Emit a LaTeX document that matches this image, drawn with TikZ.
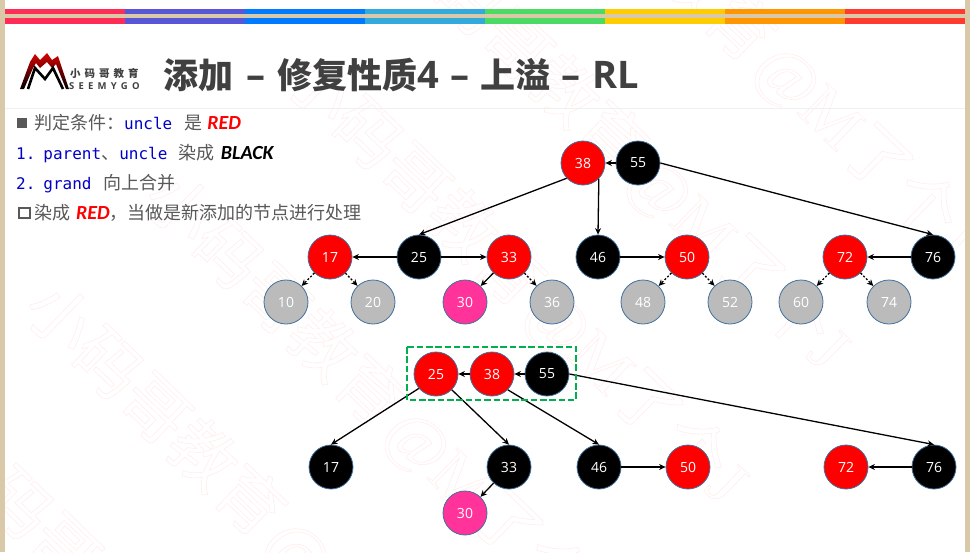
\documentclass[tikz,border=0pt]{standalone}
\usepackage{fontspec}
\setmainfont{Noto Sans CJK SC}
\newfontfamily\numfont{Open Sans}
\newfontfamily\monofont{DejaVu Sans Mono}
\newfontfamily\latinfont{Open Sans}
\newfontfamily\kwfont{Carlito}
\newfontfamily\wmfont{Noto Sans CJK SC}
\newfontfamily\wmlatin{Liberation Serif}
\usetikzlibrary{arrows.meta}
\definecolor{tanframe}{HTML}{D9C9A8}
\definecolor{bordb}{HTML}{41719C}
\definecolor{txtg}{HTML}{595959}
\definecolor{ttlg}{HTML}{404040}
\definecolor{mono}{HTML}{0000C8}
\definecolor{wm}{HTML}{FFEDEB}
\definecolor{nodegray}{HTML}{BBBBBB}
\definecolor{nodepink}{HTML}{FF3399}
\definecolor{boxgreen}{HTML}{00B050}
\tikzset{
 x=1pt,y=-1pt,
 tn/.style={circle,draw=bordb,line width=0.8pt,minimum size=44pt,inner sep=0pt,text=white,font=\numfont\fontsize{14}{14}\selectfont},
 rednode/.style={tn,fill=red},
 blacknode/.style={tn,fill=black},
 graynode/.style={tn,fill=nodegray,text=white},
 pinknode/.style={tn,fill=nodepink},
 link/.style={draw=black,line width=1.3pt,-{Stealth[length=6.5pt,width=6pt]}},
 dotlink/.style={link,dash pattern=on 2pt off 1.8pt},
 line/.style={anchor=base west,text=txtg,font=\fontsize{18}{20}\selectfont,inner sep=0pt},
 wmtext/.style={rotate=-44,text=wm,anchor=west,inner sep=0pt,font=\wmfont\fontsize{66}{66}\selectfont},
}
\newcommand{\mon}[1]{{\monofont\fontsize{16}{16}\selectfont\textcolor{mono}{#1}}}
\newcommand{\kw}[2]{{\kwfont\fontsize{20}{16}\selectfont\bfseries\itshape\textcolor{#1}{#2}}}
\newcommand{\ttlat}[1]{{\latinfont\fontsize{38}{38}\selectfont #1}}
\newcommand{\wmline}{\special{pdf:code 1 Tr 0.55 w}小码哥教育\hspace{6pt}{\wmlatin @M}了个{\wmlatin J}}
\begin{document}
\begin{tikzpicture}
\useasboundingbox (0,0) rectangle (970,552);
\fill[white] (0,0) rectangle (970,552);
% watermark
\begin{scope}
\clip (5,0) rectangle (965,552);
\node[wmtext] (w1) at (35,296) {\wmline};
\node[wmtext] (w2) at (155,186) {\wmline};
\node[wmtext] (w3) at (397,-68) {\wmline};
\node[wmtext] (w4) at (525,-179) {\wmline};
\node[wmtext] (w5) at (295,66) {\wmline};
\node[wmtext] (w6) at (-55,436) {\wmline};
\end{scope}
% frame
\fill[tanframe] (0,0) rectangle (5,552);
\fill[tanframe] (965,0) rectangle (970,552);
\fill[tanframe] (5,14) rectangle (965,18);
\foreach \c [count=\i from 0] in {FF2D55,5856D6,007AFF,34AADC,4CD964,FFCC00,FF9500,FF3B30}{
 \definecolor{seg}{HTML}{\c}
 \fill[seg] (5+120*\i,9) rectangle (125+120*\i,14);
 \fill[seg] (5+120*\i,18) rectangle (125+120*\i,24);
}
\draw[black!6,line width=0.7pt] (5,108) -- (965,108);
% logo
\shade[top color=red!85!black,bottom color=black] (20,89) -- (30,62) -- (35,54) -- (40,60) -- (47,53) -- (52,60) -- (58,56) -- (69,89) -- (66,89) -- (56,64) -- (52,68) -- (47,62) -- (40,68) -- (36,63) -- (33,68) -- (24,89) -- cycle;
\draw[line width=2.6pt,black,line join=miter] (28,89) -- (35,68) -- (45,79) -- (53,68) -- (63,89);
\node[anchor=base west,inner sep=0pt,font=\bfseries\fontsize{10.5}{12}\selectfont,text=ttlg] (logo1) at (70,77) {小\hspace{4pt}码\hspace{4pt}哥\hspace{4pt}教\hspace{4pt}育};
\node[anchor=base west,inner sep=0pt,font=\latinfont\bfseries\fontsize{9.5}{12}\selectfont,text=ttlg] (logo2) at (69,89) {S\hspace{4.2pt}E\hspace{4.2pt}E\hspace{4.2pt}M\hspace{4.2pt}Y\hspace{4.2pt}G\hspace{4.2pt}O};
% title
\node[anchor=base west,inner sep=0pt,text=ttlg,font=\bfseries\fontsize{35}{36}\selectfont] (title) at (163,88) {添加\hspace{13pt}\ttlat{–}\hspace{12pt}修复性质\ttlat{4}\hspace{12pt}\ttlat{–}\hspace{11pt}上溢\hspace{11pt}\ttlat{–}\hspace{12pt}\ttlat{RL}};
% text
\fill[txtg] (17,118) rectangle (27,128);
\node[line] (t1) at (34,129.5) {判定条件：\mon{uncle}\hspace{12pt}是\hspace{5pt}\kw{red}{RED}};
\node[line] (t2) at (16,159.5) {\mon{1.}\hspace{8pt}\mon{parent}、\mon{uncle}\hspace{11.5pt}染成\hspace{6pt}\kw{black}{BLACK}};
\node[line] (t3) at (16,189.5) {\mon{2.}\hspace{8pt}\mon{grand}\hspace{12pt}向上合并};
\draw[txtg,line width=2pt] (18.5,208) rectangle (29.5,218);
\node[line] (t4) at (34,219.5) {染成\hspace{6pt}\kw{red}{RED}，当做是新添加的节点进行处理};
% top tree
\node[rednode] (a38) at (583,163) {38};
\node[blacknode] (a55) at (638,163) {55};
\node[rednode] (a17) at (330,257) {17};
\node[blacknode] (a25) at (419,257) {25};
\node[rednode] (a33) at (509,257) {33};
\node[blacknode] (a46) at (598,257) {46};
\node[rednode] (a50) at (687,257) {50};
\node[rednode] (a72) at (845,257) {72};
\node[blacknode] (a76) at (933,257) {76};
\node[graynode] (a10) at (286,302) {10};
\node[graynode] (a20) at (373,302) {20};
\node[pinknode] (a30) at (465,302) {30};
\node[graynode] (a36) at (552,302) {36};
\node[graynode] (a48) at (643,302) {48};
\node[graynode] (a52) at (730,302) {52};
\node[graynode] (a60) at (801,302) {60};
\node[graynode] (a74) at (889,302) {74};
\draw[link] (a55) -- (a38);
\draw[link] (a38.-137) -- (a25.north);
\draw[link] (a38.-45) -- (a46.north);
\draw[link] (a55.east) -- (a76.north);
\draw[link] (a25) -- (a17);
\draw[link] (a25) -- (a33);
\draw[link] (a46) -- (a50);
\draw[link] (a76) -- (a72);
\draw[link] (a33) -- (a30);
\draw[dotlink] (a33) -- (a36);
\draw[dotlink] (a17) -- (a10);
\draw[dotlink] (a17) -- (a20);
\draw[dotlink] (a50) -- (a48);
\draw[dotlink] (a50) -- (a52);
\draw[dotlink] (a72) -- (a60);
\draw[dotlink] (a72) -- (a74);
% bottom tree
\node[rednode] (b25) at (436,374) {25};
\node[rednode] (b38) at (492,374) {38};
\node[blacknode] (b55) at (547,374) {55};
\node[blacknode] (b17) at (331,467) {17};
\node[blacknode] (b33) at (509,467) {33};
\node[blacknode] (b46) at (599,467) {46};
\node[rednode] (b50) at (688,467) {50};
\node[rednode] (b72) at (846,467) {72};
\node[blacknode] (b76) at (934,467) {76};
\node[pinknode] (b30) at (465,513) {30};
\draw[link] (b55) -- (b38);
\draw[link] (b38) -- (b25);
\draw[link] (b25.-140) -- (b17.north);
\draw[link] (b25.-45) -- (b33.north);
\draw[link] (b38.-45) -- (b46.north);
\draw[link] (b55.east) -- (b76.north);
\draw[link] (b33) -- (b30);
\draw[link] (b46) -- (b50);
\draw[link] (b76) -- (b72);
\draw[draw=boxgreen,line width=2.2pt,dash pattern=on 6.5pt off 2.8pt] (407,347) rectangle (576,400);
\end{tikzpicture}
\end{document}
